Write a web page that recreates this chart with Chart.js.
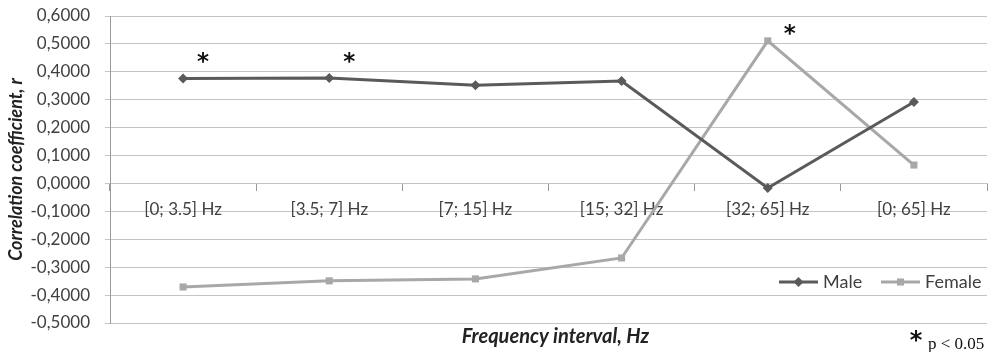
<!DOCTYPE html>
<html>
<head>
<meta charset="utf-8">
<script src="https://cdn.jsdelivr.net/npm/chart.js@4/dist/chart.umd.min.js"></script>
<style>
  html, body { margin: 0; padding: 0; background: #fff; }
  #wrap { width: 992px; height: 352px; position: relative; }
</style>
</head>
<body>
<div id="wrap"><canvas id="lineChart"></canvas></div>
<script>
const categories = ['[0; 3.5] Hz', '[3.5; 7] Hz', '[7; 15] Hz', '[15; 32] Hz', '[32; 65] Hz', '[0; 65] Hz'];
const maleValues = [0.376, 0.378, 0.352, 0.367, -0.016, 0.292];
const femaleValues = [-0.371, -0.349, -0.342, -0.267, 0.511, 0.066];
// significant points (p < 0.05) get an asterisk
const maleSignificant = [true, true, false, false, false, false];
const femaleSignificant = [false, false, false, false, true, false];
const yMin = -0.5, yMax = 0.6, yStep = 0.1;

const FONT = 'Lato';
const MALE_COLOR = '#5a5a5a';
const FEMALE_COLOR = '#a8a8a8';
const GRID_COLOR = '#c4c4c4';

function fmt(v) {
  if (Math.abs(v) < 1e-9) v = 0;
  return v.toFixed(4).replace('.', ',');
}

const extras = {
  id: 'extras',
  afterDatasetsDraw(chart) {
    const ctx = chart.ctx;
    const area = chart.chartArea;
    ctx.save();

    // asterisks above significant points
    ctx.fillStyle = '#111';
    ctx.font = 'bold 23px "DejaVu Sans"';
    ctx.textAlign = 'center';
    ctx.textBaseline = 'middle';
    [[0, maleSignificant, 20, -15], [1, femaleSignificant, 22, -6]].forEach(([di, sig, dx, dy]) => {
      const meta = chart.getDatasetMeta(di);
      sig.forEach((s, i) => {
        if (!s) return;
        const p = meta.data[i];
        ctx.fillText('*', p.x + dx, p.y + dy);
      });
    });

    // legend inside the plot, bottom right
    const ly = area.bottom - 41;
    const items = [
      { label: 'Male', color: MALE_COLOR, style: 'rectRot', x0: area.right - 208 },
      { label: 'Female', color: FEMALE_COLOR, style: 'rect', x0: area.right - 106 }
    ];
    items.forEach(it => {
      ctx.strokeStyle = it.color;
      ctx.lineWidth = 3;
      ctx.beginPath();
      ctx.moveTo(it.x0, ly);
      ctx.lineTo(it.x0 + 39, ly);
      ctx.stroke();
      ctx.fillStyle = it.color;
      Chart.helpers.drawPoint(ctx, { pointStyle: it.style, radius: 5, borderWidth: 0 }, it.x0 + 19.5, ly);
      ctx.fillStyle = '#404040';
      ctx.font = '18px ' + FONT;
      ctx.textAlign = 'left';
      ctx.textBaseline = 'middle';
      ctx.fillText(it.label, it.x0 + 44, ly);
    });

    // x axis title, centred under the plot area
    ctx.fillStyle = '#222';
    ctx.font = 'italic bold 20px ' + FONT;
    ctx.textAlign = 'center';
    ctx.textBaseline = 'middle';
    ctx.fillText('Frequency interval, Hz', (area.left + area.right) / 2 + 7, 337);

    // note bottom right
    ctx.fillStyle = '#111';
    ctx.font = 'bold 24px "DejaVu Sans"';
    ctx.fillText('*', 916, 342);
    ctx.font = '17px "Liberation Serif"';
    ctx.textAlign = 'left';
    ctx.fillText('p < 0.05', 928, 345);
    ctx.restore();
  }
};

new Chart(document.getElementById('lineChart'), {
  type: 'line',
  data: {
    labels: categories,
    datasets: [{
      label: 'Male',
      data: maleValues,
      borderColor: MALE_COLOR,
      backgroundColor: MALE_COLOR,
      borderWidth: 3,
      pointStyle: 'rectRot',
      pointRadius: 5,
      pointBorderWidth: 0,
      tension: 0
    }, {
      label: 'Female',
      data: femaleValues,
      borderColor: FEMALE_COLOR,
      backgroundColor: FEMALE_COLOR,
      borderWidth: 3,
      pointStyle: 'rect',
      pointRadius: 5,
      pointBorderWidth: 0,
      tension: 0
    }]
  },
  options: {
    responsive: true,
    maintainAspectRatio: false,
    animation: false,
    layout: { padding: { top: 16, right: 0, left: 0, bottom: 29 } },
    plugins: {
      legend: { display: false },
      tooltip: { enabled: false }
    },
    scales: {
      x: {
        type: 'category',
        position: { y: 0 },
        offset: true,
        grid: { offset: true, drawOnChartArea: false, tickLength: 7, color: '#999' },
        border: { color: GRID_COLOR },
        ticks: {
          autoSkip: false,
          maxRotation: 0,
          padding: 9,
          color: '#404040',
          font: { family: FONT, size: 17 }
        }
      },
      y: {
        min: yMin,
        max: yMax,
        grid: { color: GRID_COLOR, tickLength: 5 },
        border: { color: '#999' },
        afterFit(scale) {
          scale.width = 110;
          scale.paddingTop = 0;
          scale.paddingBottom = 0;
        },
        ticks: {
          stepSize: yStep,
          padding: 15,
          color: '#404040',
          font: { family: FONT, size: 17 },
          callback: v => fmt(v)
        },
        title: {
          display: true,
          text: 'Correlation coefficient, r',
          color: '#222',
          font: { family: FONT, size: 18, weight: 'bold', style: 'italic' },
          padding: { top: 5, bottom: 0 }
        }
      }
    }
  },
  plugins: [extras]
});
</script>
</body>
</html>
